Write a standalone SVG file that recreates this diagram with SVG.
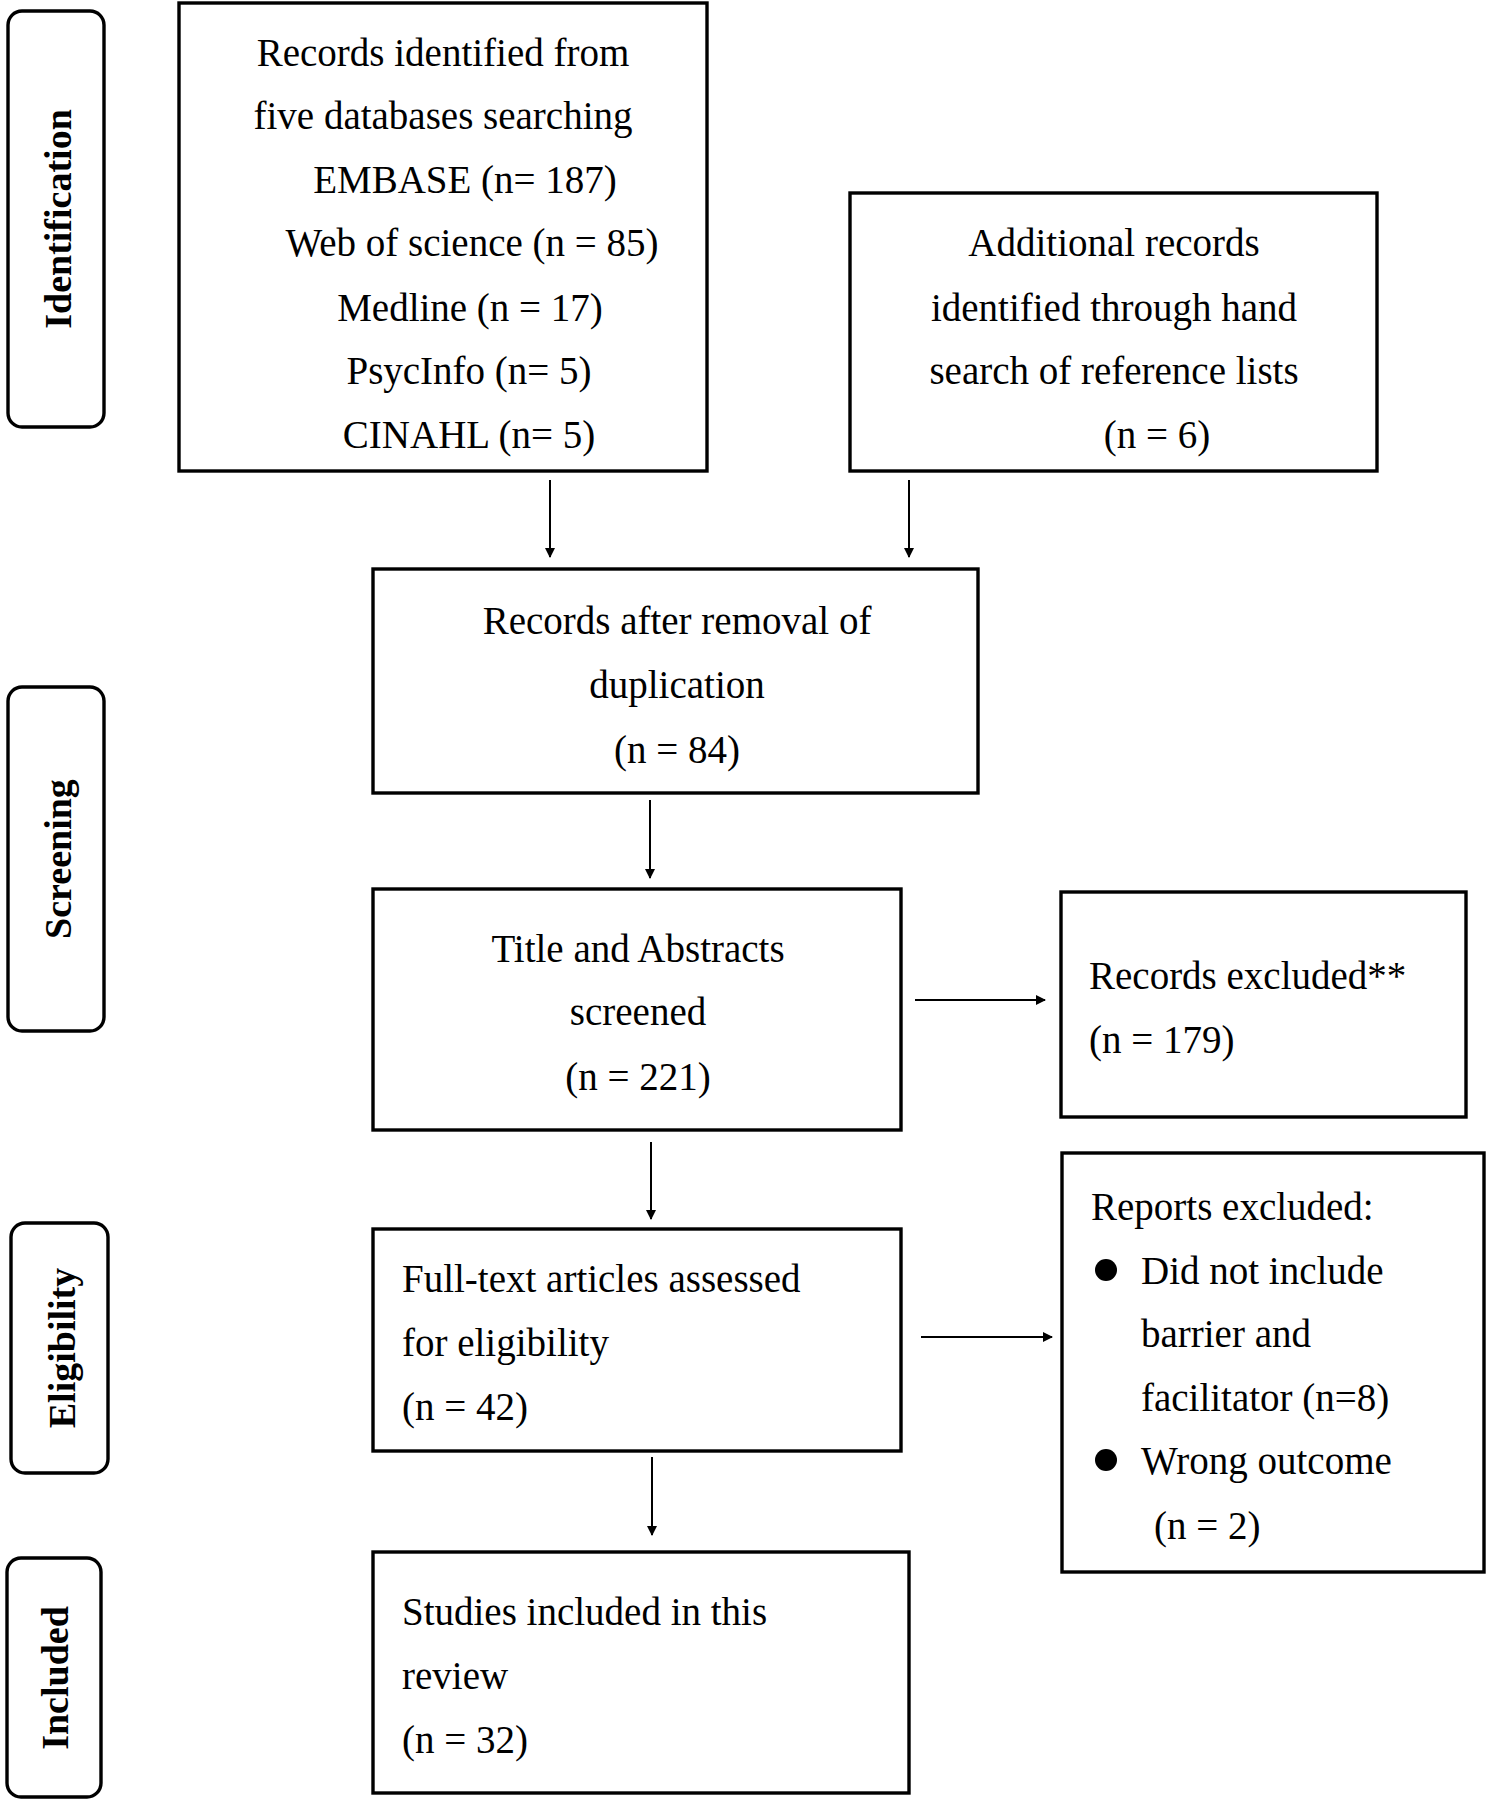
<svg xmlns="http://www.w3.org/2000/svg" width="1489" height="1802" viewBox="0 0 1489 1802">
<defs>
<marker id="ah" markerWidth="10" markerHeight="10" refX="9" refY="5" orient="auto" markerUnits="userSpaceOnUse" viewBox="0 0 10 10"><path d="M0,0 L10,5 L0,10 z" fill="#000"/></marker>
</defs>
<style>
.box{fill:#fff;stroke:#000;stroke-width:3.4}
.side{fill:#fff;stroke:#000;stroke-width:3.4}
text{font-family:"Liberation Serif",serif;font-size:39px;fill:#000;dominant-baseline:central}
.c{text-anchor:middle}
.lab{font-weight:bold;font-size:38px;text-anchor:middle}
.arr{stroke:#000;stroke-width:2;fill:none;marker-end:url(#ah)}
</style>
<rect width="1489" height="1802" fill="#fff"/>
<g id="side-identification"><rect class="side" x="8" y="11" width="96" height="416" rx="14"/><text class="lab" transform="translate(58,219) rotate(-90)">Identification</text></g>
<g id="side-screening"><rect class="side" x="8" y="687" width="96" height="344" rx="14"/><text class="lab" transform="translate(58,859) rotate(-90)">Screening</text></g>
<g id="side-eligibility"><rect class="side" x="11" y="1223" width="97" height="250" rx="14"/><text class="lab" transform="translate(62,1348) rotate(-90)">Eligibility</text></g>
<g id="side-included"><rect class="side" x="7" y="1558" width="94" height="239" rx="14"/><text class="lab" transform="translate(55,1678) rotate(-90)">Included</text></g>

<g id="n1"><rect class="box" x="179" y="3" width="528" height="468"/>
<text class="c" x="443" y="52">Records identified from</text>
<text class="c" x="443" y="115">five databases searching</text>
<text class="c" x="465" y="179">EMBASE (n= 187)</text>
<text class="c" x="472" y="242">Web of science (n = 85)</text>
<text class="c" x="470" y="307">Medline (n = 17)</text>
<text class="c" x="469" y="370">PsycInfo (n= 5)</text>
<text class="c" x="469" y="434">CINAHL (n= 5)</text></g>
<g id="n2"><rect class="box" x="850" y="193" width="527" height="278"/>
<text class="c" x="1114" y="242">Additional records</text>
<text class="c" x="1114" y="307">identified through hand</text>
<text class="c" x="1114" y="370">search of reference lists</text>
<text class="c" x="1157" y="434">(n = 6)</text></g>
<g id="n3"><rect class="box" x="373" y="569" width="605" height="224"/>
<text class="c" x="677" y="620">Records after removal of</text>
<text class="c" x="677" y="684">duplication</text>
<text class="c" x="677" y="749">(n = 84)</text></g>
<g id="n4"><rect class="box" x="373" y="889" width="528" height="241"/>
<text class="c" x="638" y="948">Title and Abstracts</text>
<text class="c" x="638" y="1011">screened</text>
<text class="c" x="638" y="1076">(n = 221)</text></g>
<g id="n5"><rect class="box" x="1061" y="892" width="405" height="225"/>
<text x="1089" y="975">Records excluded**</text>
<text x="1089" y="1039">(n = 179)</text></g>
<g id="n6"><rect class="box" x="373" y="1229" width="528" height="222"/>
<text x="402" y="1278">Full-text articles assessed</text>
<text x="402" y="1342">for eligibility</text>
<text x="402" y="1406">(n = 42)</text></g>
<g id="n7"><rect class="box" x="1062" y="1153" width="422" height="419"/>
<text x="1091" y="1206">Reports excluded:</text>
<circle cx="1106" cy="1270" r="11"/>
<text x="1141" y="1270">Did not include</text>
<text x="1141" y="1333">barrier and</text>
<text x="1141" y="1397">facilitator (n=8)</text>
<circle cx="1106" cy="1460" r="11"/>
<text x="1141" y="1460">Wrong outcome</text>
<text x="1154" y="1525">(n = 2)</text></g>
<g id="n8"><rect class="box" x="373" y="1552" width="536" height="241"/>
<text x="402" y="1611">Studies included in this</text>
<text x="402" y="1675">review</text>
<text x="402" y="1739">(n = 32)</text></g>

<g id="connectors">
<line class="arr" x1="550" y1="480" x2="550" y2="557"/>
<line class="arr" x1="909" y1="480" x2="909" y2="557"/>
<line class="arr" x1="650" y1="800" x2="650" y2="878"/>
<line class="arr" x1="915" y1="1000" x2="1045" y2="1000"/>
<line class="arr" x1="651" y1="1142" x2="651" y2="1219"/>
<line class="arr" x1="921" y1="1337" x2="1052" y2="1337"/>
<line class="arr" x1="652" y1="1457" x2="652" y2="1535"/>
</g>
</svg>
